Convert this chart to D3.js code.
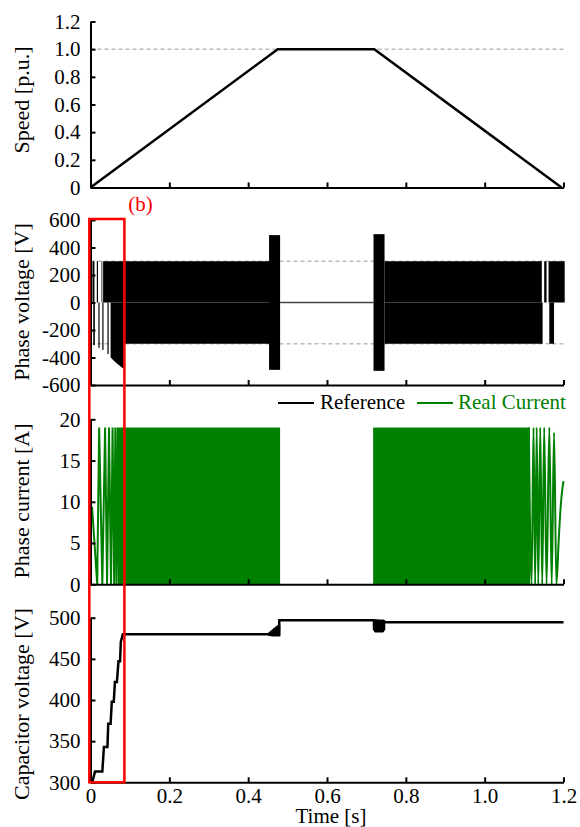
<!DOCTYPE html>
<html>
<head>
<meta charset="utf-8">
<script src="https://cdn.jsdelivr.net/npm/d3@7"></script>
<style>
  body { margin: 0; background: #fff; }
  svg, svg text { font-family: "Liberation Serif", Tinos, "Times New Roman", Times, "DejaVu Serif", serif; }
</style>
</head>
<body>
<div id="chart"></div>
<script>
// ---- data ----
const timeTicks = [0, 0.2, 0.4, 0.6, 0.8, 1.0, 1.2];
const speedTicks = [0, 0.2, 0.4, 0.6, 0.8, 1.0, 1.2];
const voltTicks = [-600, -400, -200, 0, 200, 400, 600];
const curTicks = [0, 5, 10, 15, 20];
const capTicks = [300, 350, 400, 450, 500];

const speedT = [0, 0.475, 0.72, 1.195];
const speedV = [0, 1, 1, 0];
const speedRef = [1.0];

// phase voltage: solid switching blocks [t0, t1, vLow, vHigh]
const voltBlocks = [
    [0.005, 0.010, 0, 300],
    [0.016, 0.019, 0, 300],
    [0.028, 0.030, 0, 300],
    [0.032, 0.455, 0, 300],
    [0.007, 0.011, -310, 0],
    [0.020, 0.023, -330, 0],
    [0.030, 0.033, -345, 0],
    [0.043, 0.046, -375, 0],
    [0.087, 0.455, -300, 0],
    [0.453, 0.481, -490, 490],
    [0.718, 0.746, -497, 497],
    [0.746, 1.145, 0, 300],
    [1.151, 1.157, 0, 300],
    [1.162, 1.203, 0, 300],
    [0.746, 1.147, -300, 0],
    [1.164, 1.176, -300, 0]
];
// lower envelope of the first solid negative block
const voltEnvT = [0.051, 0.060, 0.070, 0.082, 0.087];
const voltEnvV = [-400, -425, -450, -478, -478];
const voltZeroT = [0.481, 0.718];
const voltRef = [300, -300];

// phase current
const curPeak = 19;
const curBlocks = [[0.080, 0.481], [0.717, 1.115]];
const curStartT = [0.004, 0.017, 0.022, 0.030, 0.037, 0.042, 0.047, 0.052, 0.056, 0.060,
                   0.063, 0.066, 0.069, 0.072, 0.074, 0.077, 0.079, 0.081];
const curStartI = [9.4, 0, 19, 0, 19, 0, 19, 0, 19, 0, 19, 0, 19, 0, 19, 0, 19, 0];
const curEndT = [1.112, 1.119, 1.124, 1.128, 1.132, 1.136, 1.141, 1.146, 1.151, 1.157,
                 1.164, 1.170, 1.176, 1.182, 1.188, 1.193, 1.197, 1.2];
const curEndI = [19, 0, 19, 0, 19, 0, 19, 0, 19, 0, 19, 0, 18.4, 0, 5.5, 9.5, 11.5, 12.5];

// capacitor voltage
const capT = [0.0046, 0.0114, 0.030, 0.034, 0.043, 0.045, 0.051, 0.054, 0.059, 0.062,
              0.067, 0.071, 0.075, 0.077, 0.082, 0.478, 0.479, 0.718, 0.747, 1.2];
const capV = [300, 313, 313, 343, 343, 371, 371, 398, 398, 422,
              422, 447, 447, 471, 480, 480, 497, 497, 494.5, 494.5];
// ripple blobs: t, upper, lower
const capBlob1T = [0.452, 0.462, 0.472, 0.480];
const capBlob1Hi = [481, 485, 489, 491];
const capBlob1Lo = [479, 478, 478, 478];
const capBlob2T = [0.718, 0.722, 0.742, 0.746];
const capBlob2Hi = [497, 497, 497, 496];
const capBlob2Lo = [486, 483, 483, 486];

// ---- layout ----
const width = 580, height = 827;
const green = "#008000";
const fontSize = 21;
const serif = "'Liberation Serif', Tinos, 'Times New Roman', Times, 'DejaVu Serif', serif";

const svg = d3.select("#chart").append("svg")
    .attr("width", width)
    .attr("height", height)
    .attr("font-family", serif)
    .style("background", "#fff");

const x = d3.scaleLinear().domain([0, 1.2]).range([90.5, 563.5]);

const panels = [
    { domain: [0, 1.2], range: [187.5, 21.5], ticks: speedTicks, title: "Speed [p.u.]", titleY: 100,
      fmt: d => d === 0 ? "0" : d3.format(".1f")(d) },
    { domain: [-600, 600], range: [385, 220], ticks: voltTicks, title: "Phase voltage [V]", titleY: 302,
      fmt: d => String(d) },
    { domain: [0, 20], range: [584.3, 419.3], ticks: curTicks, title: "Phase current [A]", titleY: 501,
      fmt: d => String(d) },
    { domain: [300, 500], range: [782.3, 617.7], ticks: capTicks, title: "Capacitor voltage [V]", titleY: 704,
      fmt: d => String(d) }
];
panels.forEach(p => { p.y = d3.scaleLinear().domain(p.domain).range(p.range); });

function styleAxis(g) {
    g.attr("font-size", fontSize).attr("font-family", serif);
    g.select(".domain").attr("stroke-width", 2);
    g.selectAll(".tick line").attr("stroke-width", 2);
    g.selectAll(".tick text").attr("fill", "#000");
}

// ---- panel 1: speed ----
const p1 = panels[0];
svg.selectAll("line.speed-ref")
    .data(speedRef)
    .enter().append("line")
    .attr("x1", x(0)).attr("x2", x(1.2))
    .attr("y1", d => p1.y(d)).attr("y2", d => p1.y(d))
    .attr("stroke", "#bbb").attr("stroke-width", 1.5).attr("stroke-dasharray", "4,3");

svg.append("path")
    .datum(d3.range(speedT.length))
    .attr("fill", "none").attr("stroke", "#000").attr("stroke-width", 2.5)
    .attr("d", d3.line().x(i => x(speedT[i])).y(i => p1.y(speedV[i])));

// ---- panel 2: phase voltage ----
const p2 = panels[1];
svg.selectAll("line.volt-ref")
    .data(voltRef)
    .enter().append("line")
    .attr("x1", x(0)).attr("x2", x(1.2))
    .attr("y1", d => p2.y(d)).attr("y2", d => p2.y(d))
    .attr("stroke", "#bbb").attr("stroke-width", 1.5).attr("stroke-dasharray", "4,3");

svg.selectAll("rect.volt")
    .data(voltBlocks)
    .enter().append("rect")
    .attr("x", d => x(d[0]))
    .attr("width", d => x(d[1]) - x(d[0]))
    .attr("y", d => p2.y(d[3]))
    .attr("height", d => p2.y(d[2]) - p2.y(d[3]))
    .attr("fill", "#000");

svg.append("path")
    .datum(d3.range(voltEnvT.length))
    .attr("fill", "#000")
    .attr("d", d3.area().x(i => x(voltEnvT[i])).y0(p2.y(0)).y1(i => p2.y(voltEnvV[i])));

svg.append("line")
    .attr("x1", x(voltZeroT[0])).attr("x2", x(voltZeroT[1]))
    .attr("y1", p2.y(0)).attr("y2", p2.y(0))
    .attr("stroke", "#444").attr("stroke-width", 1.5);

// ---- panel 3: phase current ----
const p3 = panels[2];
svg.selectAll("rect.cur")
    .data(curBlocks)
    .enter().append("rect")
    .attr("x", d => x(d[0]))
    .attr("width", d => x(d[1]) - x(d[0]))
    .attr("y", p3.y(curPeak))
    .attr("height", p3.y(0) - p3.y(curPeak))
    .attr("fill", green);

const curLine = (tt, ii) => d3.line().x(i => x(tt[i])).y(i => p3.y(ii[i]));
svg.append("path")
    .datum(d3.range(curStartT.length))
    .attr("fill", "none").attr("stroke", green).attr("stroke-width", 2)
    .attr("d", curLine(curStartT, curStartI));
svg.append("path")
    .datum(d3.range(curEndT.length))
    .attr("fill", "none").attr("stroke", green).attr("stroke-width", 2)
    .attr("d", curLine(curEndT, curEndI).curve(d3.curveMonotoneX));

// legend
const legend = svg.append("g").attr("font-size", fontSize);
legend.append("line").attr("x1", 278).attr("x2", 314).attr("y1", 403).attr("y2", 403)
    .attr("stroke", "#000").attr("stroke-width", 2);
legend.append("text").attr("x", 320).attr("y", 409).text("Reference");
legend.append("line").attr("x1", 417).attr("x2", 453).attr("y1", 403).attr("y2", 403)
    .attr("stroke", green).attr("stroke-width", 2);
legend.append("text").attr("x", 458).attr("y", 409).attr("fill", green).text("Real Current");

// ---- panel 4: capacitor voltage ----
const p4 = panels[3];
svg.append("path")
    .datum(d3.range(capT.length))
    .attr("fill", "none").attr("stroke", "#000").attr("stroke-width", 2.5)
    .attr("d", d3.line().x(i => x(capT[i])).y(i => p4.y(capV[i])));

[[capBlob1T, capBlob1Hi, capBlob1Lo], [capBlob2T, capBlob2Hi, capBlob2Lo]].forEach(b => {
    svg.append("path")
        .datum(d3.range(b[0].length))
        .attr("fill", "#000").attr("stroke", "#000").attr("stroke-width", 1.5)
        .attr("stroke-linejoin", "round")
        .attr("d", d3.area().x(i => x(b[0][i])).y0(i => p4.y(b[2][i])).y1(i => p4.y(b[1][i])));
});

// ---- axes ----
panels.forEach((p, k) => {
    svg.append("g")
        .attr("transform", `translate(0,${p.range[0]})`)
        .call(d3.axisBottom(x).tickValues(timeTicks).tickSizeInner(-5).tickSizeOuter(0)
            .tickPadding(6)
            .tickFormat(k === 3 ? (d => d === 0 ? "0" : d3.format(".1f")(d)) : ""))
        .call(styleAxis);

    svg.append("g")
        .attr("transform", `translate(${x(0)},0)`)
        .call(d3.axisLeft(p.y).tickValues(p.ticks).tickSizeInner(-5).tickSizeOuter(0)
            .tickPadding(10).tickFormat(p.fmt))
        .call(styleAxis);

    svg.append("text")
        .attr("transform", `translate(29,${p.titleY}) rotate(-90)`)
        .attr("text-anchor", "middle")
        .attr("font-size", 22)
        .text(p.title);
});

svg.append("text")
    .attr("x", 331).attr("y", 823)
    .attr("text-anchor", "middle")
    .attr("font-size", fontSize)
    .text("Time [s]");

// ---- annotation box (b) ----
svg.append("rect")
    .attr("x", x(-0.003))
    .attr("y", p2.y(600) - 1)
    .attr("width", x(0.086) - x(-0.003))
    .attr("height", p4.y(300) - p2.y(600) + 1)
    .attr("fill", "none").attr("stroke", "#f00").attr("stroke-width", 2.5);

svg.append("text")
    .attr("x", x(0.096)).attr("y", 211)
    .attr("fill", "#f00")
    .attr("font-size", fontSize)
    .text("(b)");
</script>
</body>
</html>
